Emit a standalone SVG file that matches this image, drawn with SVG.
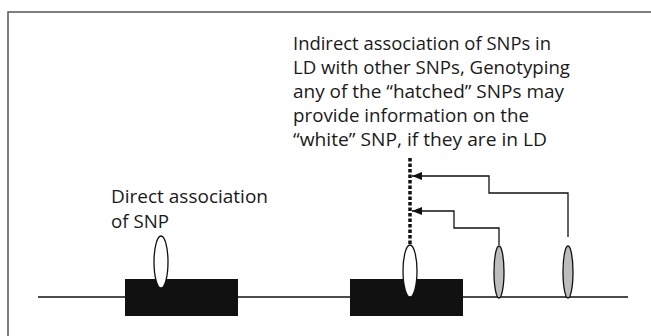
<svg xmlns="http://www.w3.org/2000/svg" width="651" height="336" viewBox="0 0 651 336">
<style>
text{font-family:"Open Sans","Noto Sans","Liberation Sans",sans-serif;font-size:18px;fill:#1a1a1a}
.ln{fill:none;stroke:#111;stroke-width:1.3}
.box{fill:#111}
.snpw{fill:#fff;stroke:#111;stroke-width:1.3}
.snpg{fill:#bdbdbd;stroke:#111;stroke-width:1.3}
</style>
<defs>
<marker id="ah" markerWidth="10" markerHeight="8" refX="10" refY="4" orient="auto" markerUnits="userSpaceOnUse">
<path d="M10,4 L0,0 L0,8 Z" fill="#111"/>
</marker>
</defs>
<rect x="0" y="0" width="651" height="336" fill="#fff"/>
<path d="M8,336 V12 H651" fill="none" stroke="#555" stroke-width="1.5"/>
<g id="chromosome"><line class="ln" x1="38" y1="297" x2="628" y2="297"/></g>
<g id="gene1"><rect class="box" x="125" y="279" width="113" height="37"/></g>
<g id="gene2"><rect class="box" x="350" y="279" width="113" height="37"/></g>
<g id="snp-direct"><ellipse class="snpw" cx="161" cy="262" rx="7" ry="26"/></g>
<g id="snp-white"><ellipse class="snpw" cx="410" cy="271" rx="7" ry="26"/></g>
<g id="snp-hatched1"><ellipse class="snpg" cx="499" cy="272" rx="5" ry="26"/></g>
<g id="snp-hatched2"><ellipse class="snpg" cx="568" cy="272" rx="5" ry="26"/></g>
<g id="connectors">
<line x1="410" y1="158" x2="410" y2="245" stroke="#111" stroke-width="3.5" stroke-dasharray="3.5,2"/>
<path class="ln" d="M568,237 V193 H489 V176 H412" marker-end="url(#ah)"/>
<path class="ln" d="M499,245 V228 H454 V211 H412" marker-end="url(#ah)"/>
</g>
<g id="label-direct">
<text x="111" y="203" textLength="157" lengthAdjust="spacingAndGlyphs">Direct association</text>
<text x="111" y="228" textLength="58" lengthAdjust="spacingAndGlyphs">of SNP</text>
</g>
<g id="label-indirect">
<text x="293" y="50" textLength="258" lengthAdjust="spacingAndGlyphs">Indirect association of SNPs in</text>
<text x="293" y="74" textLength="277" lengthAdjust="spacingAndGlyphs">LD with other SNPs, Genotyping</text>
<text x="293" y="98" textLength="271" lengthAdjust="spacingAndGlyphs">any of the “hatched” SNPs may</text>
<text x="293" y="122" textLength="236" lengthAdjust="spacingAndGlyphs">provide information on the</text>
<text x="293" y="146" textLength="254" lengthAdjust="spacingAndGlyphs">“white” SNP, if they are in LD</text>
</g>
</svg>
